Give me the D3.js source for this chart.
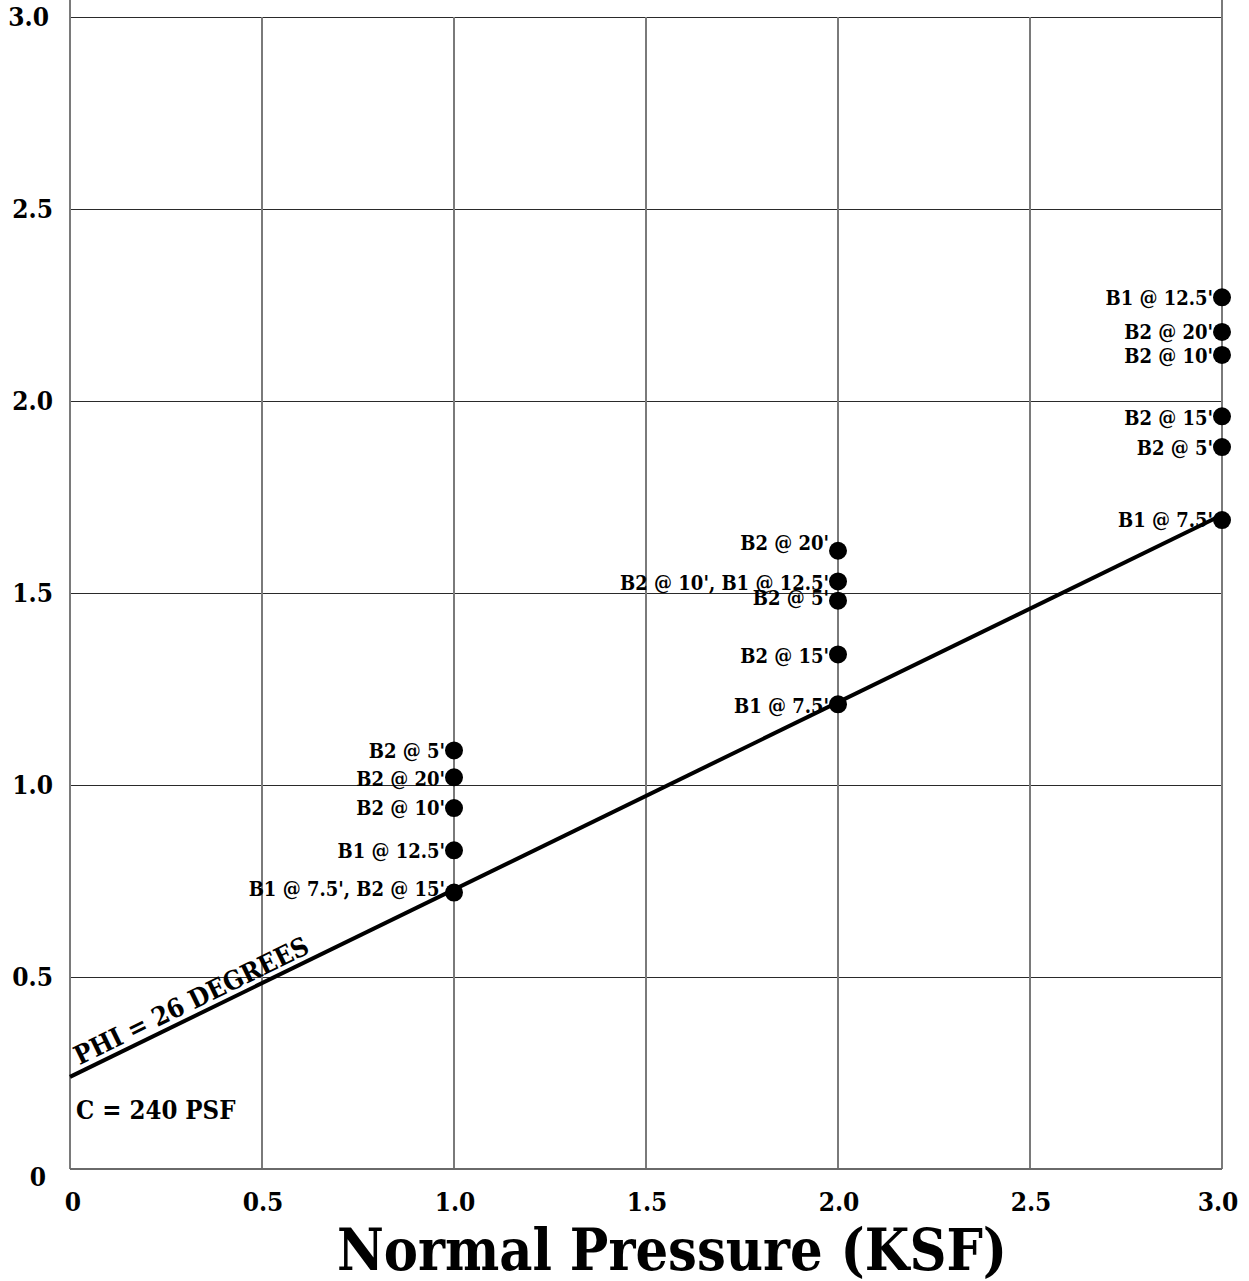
<!DOCTYPE html>
<html>
<head>
<meta charset="utf-8">
<script src="https://cdn.jsdelivr.net/npm/d3@7"></script>
<style>
  html, body { margin: 0; padding: 0; background: #fff; }
  svg { display: block; }
  text { font-family: "DejaVu Serif Condensed", "DejaVu Serif", serif; font-stretch: condensed; font-weight: bold; fill: #000; }
</style>
</head>
<body>
<svg id="chart" width="1249" height="1281"></svg>
<script>
// ---- data ----
const pressures = [1.0, 1.0, 1.0, 1.0, 1.0, 2.0, 2.0, 2.0, 2.0, 2.0, 3.0, 3.0, 3.0, 3.0, 3.0, 3.0];
const shears    = [1.09, 1.02, 0.94, 0.83, 0.72, 1.61, 1.53, 1.48, 1.34, 1.21, 2.27, 2.18, 2.12, 1.96, 1.88, 1.69];
const pointLabels = [
  "B2 @ 5'", "B2 @ 20'", "B2 @ 10'", "B1 @ 12.5'", "B1 @ 7.5', B2 @ 15'",
  "B2 @ 20'", "B2 @ 10', B1 @ 12.5'", "B2 @ 5'", "B2 @ 15'", "B1 @ 7.5'",
  "B1 @ 12.5'", "B2 @ 20'", "B2 @ 10'", "B2 @ 15'", "B2 @ 5'", "B1 @ 7.5'"
];
// vertical label nudges (px), style only
const labelNudge = [0, 1, 0, 1, -4, -8, 1, -3, 1, 1, 0, 0, 1, 1, 1, 0];
const cohesion = 0.24;      // KSF (C = 240 PSF)
const phiDeg = 26;          // friction angle
const xTicks = [0, 0.5, 1.0, 1.5, 2.0, 2.5, 3.0];
const xTickLabels = ["0", "0.5", "1.0", "1.5", "2.0", "2.5", "3.0"];
const yTicks = [0, 0.5, 1.0, 1.5, 2.0, 2.5, 3.0];
const yTickLabels = ["0", "0.5", "1.0", "1.5", "2.0", "2.5", "3.0"];
const xTitle = "Normal Pressure (KSF)";
const phiLabel = "PHI = 26 DEGREES";
const cLabel = "C = 240 PSF";

// ---- layout ----
const svg = d3.select("#chart");
const mLeft = 70, mRight = 1222, mTop = 17, mBottom = 1169;
const x = d3.scaleLinear().domain([0, 3]).range([mLeft, mRight]);
const y = d3.scaleLinear().domain([0, 3]).range([mBottom, mTop]);

// horizontal grid lines
svg.append("g").selectAll("line").data(yTicks.filter(d => d > 0)).join("line")
  .attr("x1", mLeft).attr("x2", mRight)
  .attr("y1", d => y(d) + 0.5).attr("y2", d => y(d) + 0.5)
  .attr("stroke", "#2a2a2a").attr("stroke-width", 1)
  .attr("shape-rendering", "crispEdges");

// vertical grid lines
svg.append("g").selectAll("line").data(xTicks).join("line")
  .attr("x1", d => x(d)).attr("x2", d => x(d))
  .attr("y1", d => (d === 0 || d === 3) ? 0 : mTop).attr("y2", mBottom)
  .attr("stroke", "#7a7a7a").attr("stroke-width", 2)
  .attr("shape-rendering", "crispEdges");

// bottom axis line
svg.append("line")
  .attr("x1", mLeft).attr("x2", mRight).attr("y1", mBottom).attr("y2", mBottom)
  .attr("stroke", "#6a6a6a").attr("stroke-width", 2)
  .attr("shape-rendering", "crispEdges");

// y tick labels
svg.append("g").selectAll("text").data(yTicks).join("text")
  .attr("x", d => d === 0 ? 46 : (d === 3 ? 49 : 53))
  .attr("y", d => y(d) + (d === 0 ? 8 : 0))
  .attr("dy", "0.36em")
  .attr("text-anchor", "end")
  .attr("font-size", 26)
  .text((d, i) => yTickLabels[i]);

// x tick labels
svg.append("g").selectAll("text").data(xTicks).join("text")
  .attr("x", d => x(d) + (d === 0 ? 3 : (d === 3 ? -4 : 1)))
  .attr("y", 1202)
  .attr("dy", "0.36em")
  .attr("text-anchor", "middle")
  .attr("font-size", 26)
  .text((d, i) => xTickLabels[i]);

// x axis title
svg.append("text")
  .attr("x", 672).attr("y", 1270)
  .attr("text-anchor", "middle")
  .attr("font-size", 57)
  .text(xTitle);

// failure envelope line
const slope = Math.tan(phiDeg * Math.PI / 180);
const envelope = [0, 3].map(p => [p, cohesion + slope * p]);
svg.append("path")
  .datum(envelope)
  .attr("d", d3.line().x(d => x(d[0])).y(d => y(d[1])))
  .attr("stroke", "#000").attr("stroke-width", 4).attr("fill", "none");

// PHI label along line
const ang = -Math.atan2(y(0) - y(slope), x(1) - x(0)) * 180 / Math.PI;
const px0 = 0.025, py0 = cohesion + slope * px0;
svg.append("text")
  .attr("transform", `translate(${x(px0)},${y(py0) - 7}) rotate(${ang})`)
  .attr("font-size", 26)
  .text(phiLabel);

// C label
svg.append("text")
  .attr("x", 76).attr("y", 1110).attr("dy", "0.36em")
  .attr("font-size", 25.5)
  .text(cLabel);

// points
svg.append("g").selectAll("circle").data(pressures).join("circle")
  .attr("cx", d => x(d)).attr("cy", (d, i) => y(shears[i]))
  .attr("r", 9).attr("fill", "#000");

// point labels
svg.append("g").selectAll("text").data(pressures).join("text")
  .attr("x", d => x(d) - 9)
  .attr("y", (d, i) => y(shears[i]) + labelNudge[i])
  .attr("dy", "0.36em")
  .attr("text-anchor", "end")
  .attr("font-size", 20)
  .text((d, i) => pointLabels[i]);
</script>
</body>
</html>
